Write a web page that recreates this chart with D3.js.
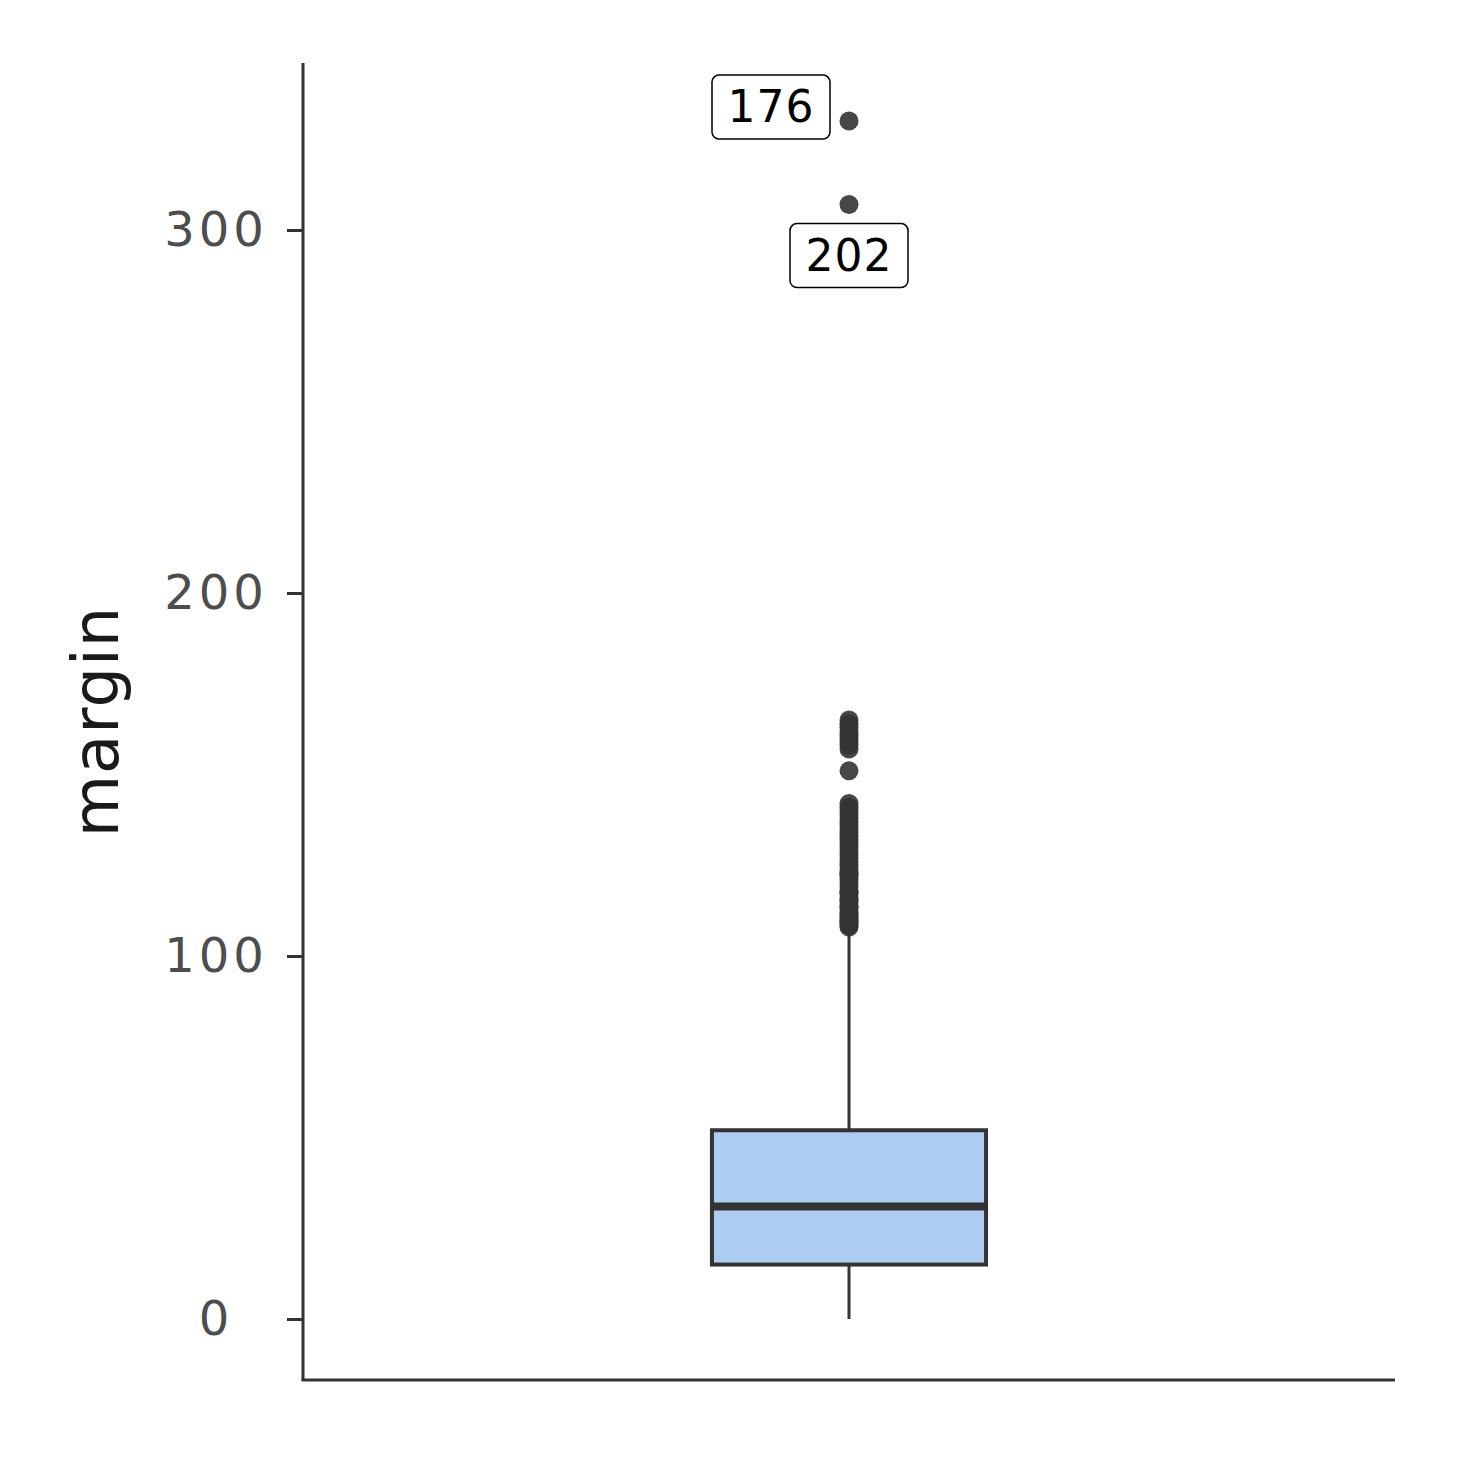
<!DOCTYPE html>
<html>
<head>
<meta charset="utf-8">
<script src="https://cdn.jsdelivr.net/npm/d3@7"></script>
<style>
  body { margin: 0; background: #fff; }
  svg text { font-family: "DejaVu Sans", sans-serif; }
</style>
</head>
<body>
<div id="chart"></div>
<script>
// box statistics
const category = ["margin"];
const boxStats = [{lowWhisker: 0, q1: 15, median: 31, q3: 52, highWhisker: 107}];
const outliers = [
  108, 108.5, 109, 109.5, 110, 110.5, 111, 111.5, 112, 113, 113.5, 114, 115, 115.5,
  116, 117, 117.5, 118, 119, 120, 121, 122, 122.5, 123, 124, 125, 126, 127, 128,
  129, 130, 131, 132, 133, 134, 135, 136, 137, 138, 139, 140, 141, 142,
  151, 157, 158, 159, 160, 161, 162, 163, 164, 165,
  307, 330
];
const labelIds = ["176", "202"];
const labelValues = [330, 307];
const yTicks = [0, 100, 200, 300];

// set the dimensions and margins of the graph
const margin = {top: 63, right: 63, bottom: 78, left: 303},
    width = 1458 - margin.left - margin.right,
    height = 1458 - margin.top - margin.bottom;

const svg = d3.select("#chart")
  .append("svg")
    .attr("width", 1458)
    .attr("height", 1458)
  .append("g")
    .attr("transform", `translate(${margin.left},${margin.top})`);

// scales
const x = d3.scaleBand()
    .domain(category)
    .range([0, width])
    .padding(0);
const y = d3.scaleLinear()
    .domain([-16.8, 346])
    .range([height, 0]);

const cx = x("margin") + x.bandwidth() / 2;
const boxW = x.bandwidth() * 0.251;

// Y axis (labels are centred in their column, like the original)
const yAxis = svg.append("g")
    .call(d3.axisLeft(y).tickValues(yTicks).tickSize(16).tickFormat(d3.format("d")));
yAxis.select(".domain").remove();
yAxis.selectAll(".tick line").attr("stroke", "#333").attr("stroke-width", 3);
yAxis.selectAll(".tick text")
    .attr("x", -87)
    .attr("text-anchor", "middle")
    .attr("fill", "#4d4d4d")
    .style("font-size", "48px")
    .style("letter-spacing", "4px");

// axis lines
svg.append("line")
    .attr("x1", 0).attr("x2", 0)
    .attr("y1", 0).attr("y2", height)
    .attr("stroke", "#333").attr("stroke-width", 3);
svg.append("line")
    .attr("x1", -1.5).attr("x2", width)
    .attr("y1", height).attr("y2", height)
    .attr("stroke", "#333").attr("stroke-width", 3);

// axis title
svg.append("text")
    .attr("transform", `translate(-185,${height / 2}) rotate(-90)`)
    .attr("text-anchor", "middle")
    .attr("fill", "#1a1a1a")
    .style("font-size", "64px")
    .style("letter-spacing", "1px")
    .text("margin");

// box
boxStats.forEach(d => {
  svg.append("line")
      .attr("x1", cx).attr("x2", cx)
      .attr("y1", y(d.q3)).attr("y2", y(d.highWhisker))
      .attr("stroke", "#333").attr("stroke-width", 3);
  svg.append("line")
      .attr("x1", cx).attr("x2", cx)
      .attr("y1", y(d.q1)).attr("y2", y(d.lowWhisker))
      .attr("stroke", "#333").attr("stroke-width", 3);
  svg.append("rect")
      .attr("x", cx - boxW / 2)
      .attr("y", y(d.q3))
      .attr("width", boxW)
      .attr("height", y(d.q1) - y(d.q3))
      .attr("fill", "#aecbf1")
      .attr("stroke", "#333")
      .attr("stroke-width", 4);
  svg.append("line")
      .attr("x1", cx - boxW / 2).attr("x2", cx + boxW / 2)
      .attr("y1", y(d.median)).attr("y2", y(d.median))
      .attr("stroke", "#333").attr("stroke-width", 8);
});

// outliers
svg.selectAll("circle.out")
  .data(outliers)
  .join("circle")
    .attr("class", "out")
    .attr("cx", cx)
    .attr("cy", d => y(d))
    .attr("r", 9.5)
    .attr("fill", "#333")
    .attr("fill-opacity", 0.9);

// repelled labels
const labelOffsets = [{dx: -78, dy: -14}, {dx: 0, dy: 51}];
labelIds.forEach((id, i) => {
  const g = svg.append("g")
      .attr("transform", `translate(${cx + labelOffsets[i].dx},${y(labelValues[i]) + labelOffsets[i].dy})`);
  g.append("rect")
      .attr("x", -59).attr("y", -32)
      .attr("width", 118).attr("height", 64)
      .attr("rx", 7)
      .attr("fill", "#fff")
      .attr("stroke", "#000")
      .attr("stroke-width", 1.5);
  g.append("text")
      .attr("text-anchor", "middle")
      .attr("dy", "0.35em")
      .attr("fill", "#000")
      .style("font-size", "44px")
      .style("letter-spacing", "1px")
      .text(id);
});
</script>
</body>
</html>
